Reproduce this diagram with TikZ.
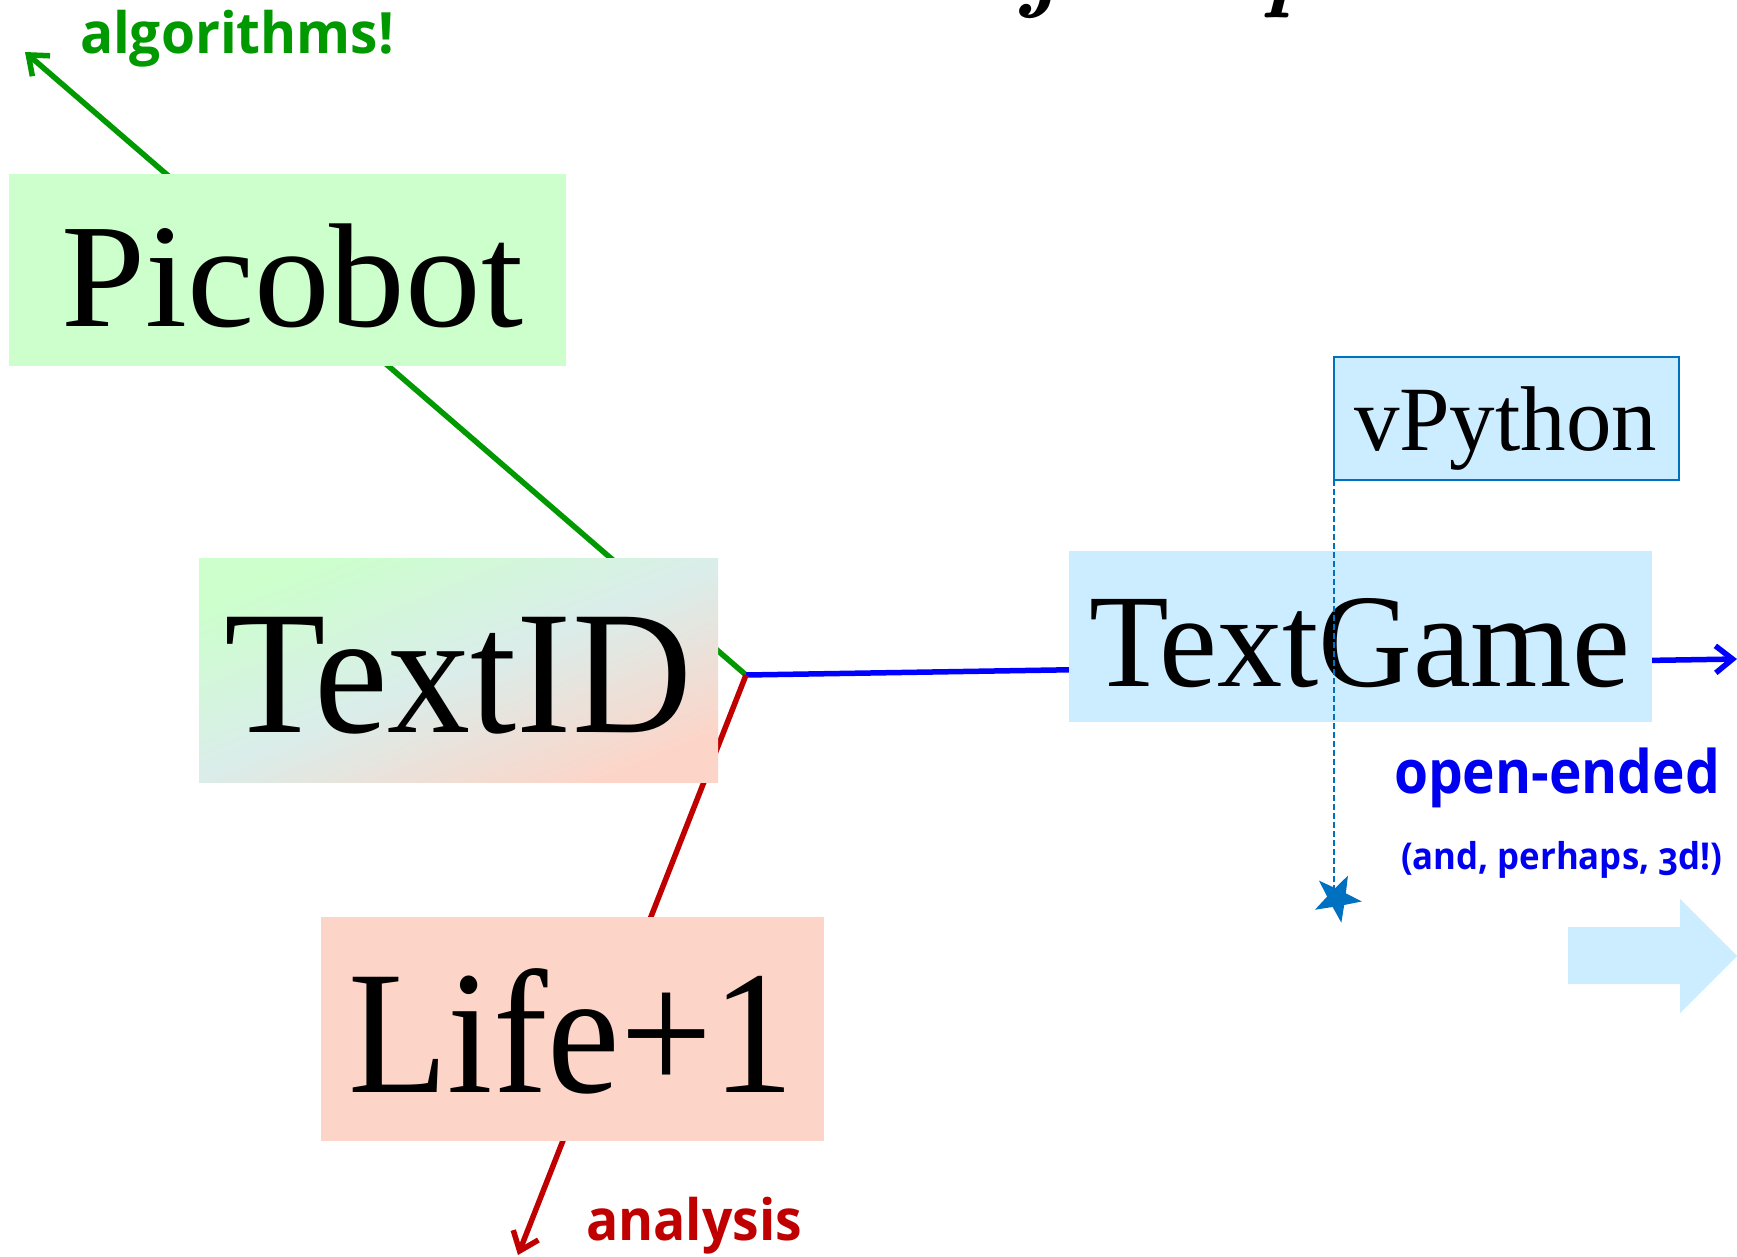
\documentclass[tikz,border=0pt]{standalone}
\usepackage{fontspec}
\usepackage{graphicx}
\usetikzlibrary{arrows.meta,calc}
\newfontfamily\slideserif{Liberation Serif}
\newfontfamily\slidesans[Numbers=OldStyle]{Open Sans}
\definecolor{pgreen}{HTML}{009900}
\definecolor{pred}{HTML}{C00000}
\definecolor{pblue}{HTML}{0000FF}
\definecolor{tblue}{HTML}{0000F0}
\definecolor{mblue}{HTML}{0070C0}
\definecolor{picofill}{HTML}{CCFFCC}
\definecolor{lifefill}{HTML}{FCD5C8}
\definecolor{gamefill}{HTML}{CCECFF}
\definecolor{midfill}{HTML}{DAEDEA}
\begin{document}
\begin{tikzpicture}[x=1pt,y=-1pt,
  conn/.style={line width=5.5pt},
  barb/.style={-{Straight Barb[length=17pt,width=27pt]}},
  box/.style={inner sep=0pt,outer sep=0pt,draw=none,rectangle},
  boxtext/.style={anchor=base west,inner sep=0pt,outer sep=0pt},
  lbl/.style={anchor=base west,inner sep=0pt,outer sep=0pt}]
\useasboundingbox (0,0) rectangle (1737,1256);
\fill[white] (0,0) rectangle (1737,1256);

% title fragments cut off at the top edge
\begin{scope}
\clip (0,0) rectangle (1737,1256);
\node[anchor=base west,inner sep=0pt,font=\fontsize{100}{100}\selectfont\bfseries\itshape] (tj) at (1022,-2) {j};
\node[anchor=base west,inner sep=0pt,font=\fontsize{100}{100}\selectfont\bfseries\itshape] (tp) at (1262,-2) {p};
\end{scope}

% junction and free ends
\coordinate (J) at (746,675);
\coordinate (algTip) at (25,52);
\coordinate (gameTip) at (1737,659);
\coordinate (anaTip) at (518,1255);

% connectors (behind the boxes)
\draw[conn,pgreen,barb] (J) -- (algTip);
\draw[conn,pblue,barb] (J) -- (gameTip);
\draw[conn,pred,barb] (J) -- (anaTip);

% boxes
\node[box,fill=picofill,minimum width=557pt,minimum height=192pt] (pico) at (287.5,270) {};
\node[box,top color=picofill,bottom color=lifefill,middle color=midfill,shading angle=22,
      minimum width=519pt,minimum height=224pt] (textid) at (458.5,670) {};
\node[box,fill=gamefill,minimum width=583pt,minimum height=171pt] (game) at (1360.5,636.5) {};
\node[box,fill=lifefill,minimum width=503pt,minimum height=224pt] (life) at (572.5,1029) {};

% box texts
\node[boxtext,font=\slideserif\fontsize{148}{148}\selectfont] (picoT) at (61,326) {\resizebox{462pt}{\height}{Picobot}};
\node[boxtext,font=\slideserif\fontsize{176}{176}\selectfont] (textidT) at (224,732) {\resizebox{468pt}{\height}{TextID}};
\node[boxtext,font=\slideserif\fontsize{133}{133}\selectfont] (gameT) at (1089,686) {\resizebox{541pt}{\height}{TextGame}};
\node[boxtext,font=\slideserif\fontsize{176}{176}\selectfont] (lifeT) at (348,1092) {\resizebox{446pt}{\height}{Life+1}};

% vPython box, dashed drop line and star
\node[box,draw=mblue,line width=2pt,fill=gamefill,minimum width=345pt,minimum height=123pt] (vpy) at (1506.5,418.5) {};
\node[boxtext,font=\slideserif\fontsize{92}{92}\selectfont] (vpyT) at (1354,450) {\resizebox{303pt}{\height}{vPython}};
\coordinate (starC) at (1337,898);
\draw[mblue,line width=2pt,dash pattern=on 6pt off 3pt] (vpy.south west) -- (vpy.south west |- starC);
\fill[mblue,shift={(starC)}] (-64:25) -- (-100:10) -- (-136:25) -- (-172:10) -- (-208:25)
  -- (-244:10) -- (-280:25) -- (-316:10) -- (-352:25) -- (-388:10) -- cycle;

% labels
\node[lbl,text=pgreen,font=\slidesans\bfseries\fontsize{57}{57}\selectfont] (algL) at (80,53) {\resizebox{314pt}{\height}{algorithms!}};
\node[lbl,text=pred,font=\slidesans\bfseries\fontsize{57}{57}\selectfont] (anaL) at (586,1240) {\resizebox{216pt}{\height}{analysis}};
\node[lbl,text=tblue,font=\slidesans\bfseries\fontsize{60}{60}\selectfont] (openL) at (1394,793) {\resizebox{326pt}{\height}{open-ended}};
\node[lbl,text=tblue,font=\slidesans\bfseries\fontsize{37}{37}\selectfont] (threeL) at (1401,869) {\resizebox{321pt}{\height}{(and, perhaps, 3d!)}};

% big light-blue block arrow
\fill[gamefill] (1568,927) -- (1680,927) -- (1680,899) -- (1737,956) -- (1680,1013)
  -- (1680,984) -- (1568,984) -- cycle;
\end{tikzpicture}
\end{document}
